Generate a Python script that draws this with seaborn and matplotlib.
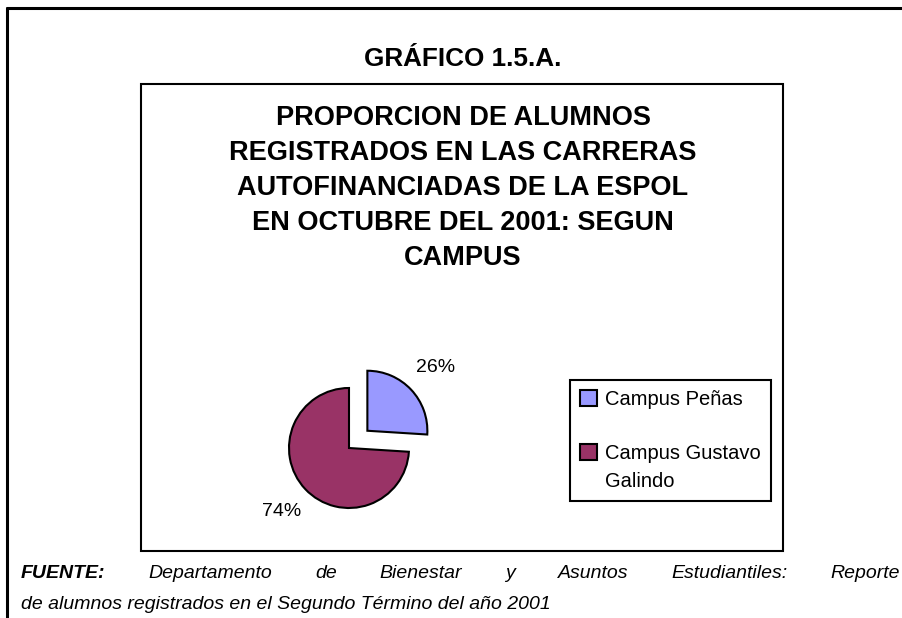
import matplotlib
matplotlib.use('Agg')
import matplotlib.pyplot as plt
from matplotlib.patches import Rectangle
from matplotlib.lines import Line2D
import seaborn as sns

# Datos del grafico
campus = ['Campus Peñas', 'Campus Gustavo\nGalindo']
proporcion = [26, 74]
colores = ['#9999FF', '#993366']

titulo = 'GRÁFICO 1.5.A.'
subtitulo = ['PROPORCION DE ALUMNOS',
             'REGISTRADOS EN LAS CARRERAS',
             'AUTOFINANCIADAS DE LA ESPOL',
             'EN OCTUBRE DEL 2001: SEGUN',
             'CAMPUS']
fuente_1 = 'Departamento de Bienestar y Asuntos Estudiantiles: Reporte'
fuente_2 = 'de alumnos registrados en el Segundo Término del año 2001'

sns.set_theme(style='white')
plt.rcParams['font.family'] = ['Liberation Sans', 'DejaVu Sans']
plt.rcParams['text.color'] = 'black'

W, H = 903, 618
fig = plt.figure(figsize=(W / 100, H / 100), dpi=100)


def fx(x):
    return x / W


def fy(y):
    return 1 - y / H


# marco exterior (sale por la derecha y por abajo)
fig.add_artist(Line2D([fx(7), fx(7)], [fy(8), 0], color='black', lw=2.2, transform=fig.transFigure))
fig.add_artist(Line2D([fx(7), 1], [fy(8), fy(8)], color='black', lw=2.2, transform=fig.transFigure))

# recuadro del grafico
fig.add_artist(Rectangle((fx(141), fy(551)), fx(783) - fx(141), fy(84) - fy(551),
                         fill=False, edgecolor='black', lw=1.5, transform=fig.transFigure))

fig.text(fx(463), fy(66), titulo, ha='center', va='baseline', fontsize=18.8, fontweight='bold')
for i, linea in enumerate(subtitulo):
    fig.text(fx(463), fy(125 + i * 35), linea, ha='center', va='baseline',
             fontsize=19.5, fontweight='bold')

# pastel
ax = fig.add_axes([fx(199), fy(448 + 150), 300 / W, 300 / H])
paleta = sns.color_palette(colores)
wedges, _, autotexts = ax.pie(proporcion, explode=[0.42, 0], colors=paleta, startangle=90,
                              counterclock=False, autopct='%1.0f%%', pctdistance=1.55,
                              wedgeprops=dict(edgecolor='black', linewidth=1.5),
                              textprops=dict(fontsize=14, color='black'))
ax.set_xlim(-2.5, 2.5)
ax.set_ylim(-2.5, 2.5)
ax.axis('off')

leg = fig.legend(wedges, campus, loc='upper left', bbox_to_anchor=(fx(570), fy(380)),
                 frameon=True, fancybox=False, edgecolor='black', framealpha=1,
                 fontsize=14.5, handlelength=0.85, handleheight=0.85, handletextpad=0.4,
                 labelspacing=1.75, borderpad=0.5, borderaxespad=0)
leg.get_frame().set_linewidth(1.5)
for t in leg.get_texts():
    t.set_linespacing(1.55)
# el cuadrito se alinea con la primera linea del texto
for col in leg._legend_handle_box.get_children():
    for fila in col.get_children():
        fila.align = 'top'

# nota de fuente, primera linea justificada
renderer = fig.canvas.get_renderer()
palabras = ['FUENTE:'] + fuente_1.split()
textos = []
for j, p in enumerate(palabras):
    peso = 'bold' if j == 0 else 'normal'
    textos.append(fig.text(0, fy(578), p, ha='left', va='baseline', fontsize=14,
                           style='italic', fontweight=peso))
anchos = [t.get_window_extent(renderer).width for t in textos]
x0, x1 = 21, 900
hueco = (x1 - x0 - sum(anchos)) / (len(palabras) - 1)
x = x0
for t, a in zip(textos, anchos):
    t.set_x(fx(x))
    x += a + hueco
fig.text(fx(21), fy(609), fuente_2, ha='left', va='baseline', fontsize=14, style='italic')

fig.savefig('out.png', dpi=100)
